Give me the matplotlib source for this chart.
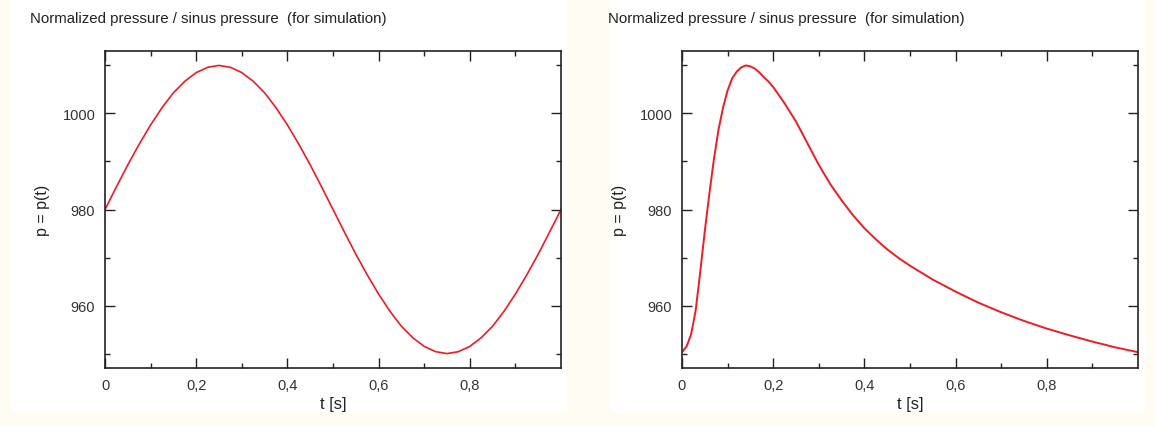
import matplotlib
matplotlib.use('Agg')
import matplotlib.pyplot as plt
from matplotlib.patches import Rectangle
from matplotlib.ticker import FixedLocator, FuncFormatter

plt.rcParams['font.family'] = ['Liberation Sans', 'DejaVu Sans']

# sinus pressure, sampled every 0.025 s
t_sinus = [0.0, 0.025, 0.05, 0.075, 0.1, 0.125, 0.15, 0.175, 0.2, 0.225,
           0.25, 0.275, 0.3, 0.325, 0.35, 0.375, 0.4, 0.425, 0.45, 0.475,
           0.5, 0.525, 0.55, 0.575, 0.6, 0.625, 0.65, 0.675, 0.7, 0.725,
           0.75, 0.775, 0.8, 0.825, 0.85, 0.875, 0.9, 0.925, 0.95, 0.975, 1.0]
p_sinus = [980.0, 984.7, 989.3, 993.6, 997.6, 1001.2, 1004.3, 1006.7, 1008.5, 1009.6,
           1010.0, 1009.6, 1008.5, 1006.7, 1004.3, 1001.2, 997.6, 993.6, 989.3, 984.7,
           980.0, 975.3, 970.7, 966.4, 962.4, 958.8, 955.7, 953.3, 951.5, 950.4,
           950.0, 950.4, 951.5, 953.3, 955.7, 958.8, 962.4, 966.4, 970.7, 975.3, 980.0]

# normalized pressure pulse
t_norm = [0.0, 0.01, 0.02, 0.03, 0.04, 0.05, 0.06, 0.07, 0.08, 0.09,
          0.10, 0.11, 0.12, 0.13, 0.14, 0.15, 0.16, 0.17, 0.18, 0.19,
          0.20, 0.225, 0.25, 0.275, 0.30, 0.325, 0.35, 0.375, 0.40, 0.425,
          0.45, 0.475, 0.50, 0.55, 0.60, 0.65, 0.70, 0.75, 0.80, 0.85,
          0.90, 0.95, 1.0]
p_norm = [950.3, 951.5, 954.0, 959.0, 967.0, 975.5, 983.3, 990.5, 996.6, 1001.2,
          1004.8, 1007.3, 1008.7, 1009.6, 1010.0, 1009.8, 1009.3, 1008.5, 1007.5, 1006.6,
          1005.5, 1002.1, 998.3, 993.8, 989.3, 985.3, 981.9, 978.8, 976.1, 973.8,
          971.7, 969.9, 968.3, 965.4, 962.9, 960.6, 958.6, 956.8, 955.2, 953.8,
          952.5, 951.3, 950.3]

x_major = [0.0, 0.2, 0.4, 0.6, 0.8]
x_minor = [0.1, 0.3, 0.5, 0.7, 0.9]
y_major = [960, 980, 1000]
y_minor = [950, 970, 990, 1010]

title = 'Normalized pressure / sinus pressure  (for simulation)'

fig = plt.figure(figsize=(11.56, 4.27), dpi=100, facecolor='#fffdf3')

# white panels behind each plot
W, H = 1156, 427
for x0, x1 in [(12, 567), (610, 1145)]:
    fig.patches.append(Rectangle((x0 / W, 14 / H), (x1 - x0) / W, 1 - 14 / H,
                                 transform=fig.transFigure, facecolor='white',
                                 edgecolor='none', zorder=-5))


def comma(v, pos):
    if v == 0:
        return '0'
    return ('%.1f' % v).replace('.', ',')


def setup(ax):
    ax.set_xlim(0, 1.0)
    ax.set_ylim(947, 1013)
    ax.xaxis.set_major_locator(FixedLocator(x_major))
    ax.xaxis.set_minor_locator(FixedLocator(x_minor))
    ax.yaxis.set_major_locator(FixedLocator(y_major))
    ax.yaxis.set_minor_locator(FixedLocator(y_minor))
    ax.xaxis.set_major_formatter(FuncFormatter(comma))
    ax.tick_params(which='both', direction='in', top=True, right=True,
                   width=1.0, color='#222222', labelsize=10.5,
                   labelcolor='#333333')
    ax.tick_params(which='major', length=7, pad=7)
    ax.tick_params(which='minor', length=3.5)
    for s in ax.spines.values():
        s.set_linewidth(1.2)
        s.set_color('#222222')
    ax.set_xlabel('t [s]', fontsize=12, color='#222222', labelpad=3)
    ax.set_ylabel('p = p(t)', fontsize=11.5, color='#222222', labelpad=9)


ax1 = fig.add_axes([105 / W, 58 / H, 456 / W, 317 / H], zorder=2)
ax1.plot(t_sinus, p_sinus, color='#ee1c24', linewidth=1.2)
setup(ax1)

ax2 = fig.add_axes([682 / W, 58 / H, 456 / W, 317 / H], zorder=2)
ax2.plot(t_norm, p_norm, color='#ee1c24', linewidth=1.4)
setup(ax2)

fig.text(30 / W, 1 - 19 / H, title, fontsize=10.8, color='#222222', va='center')
fig.text(608 / W, 1 - 19 / H, title, fontsize=10.8, color='#222222', va='center')

fig.savefig('out.png', dpi=100, facecolor=fig.get_facecolor())
